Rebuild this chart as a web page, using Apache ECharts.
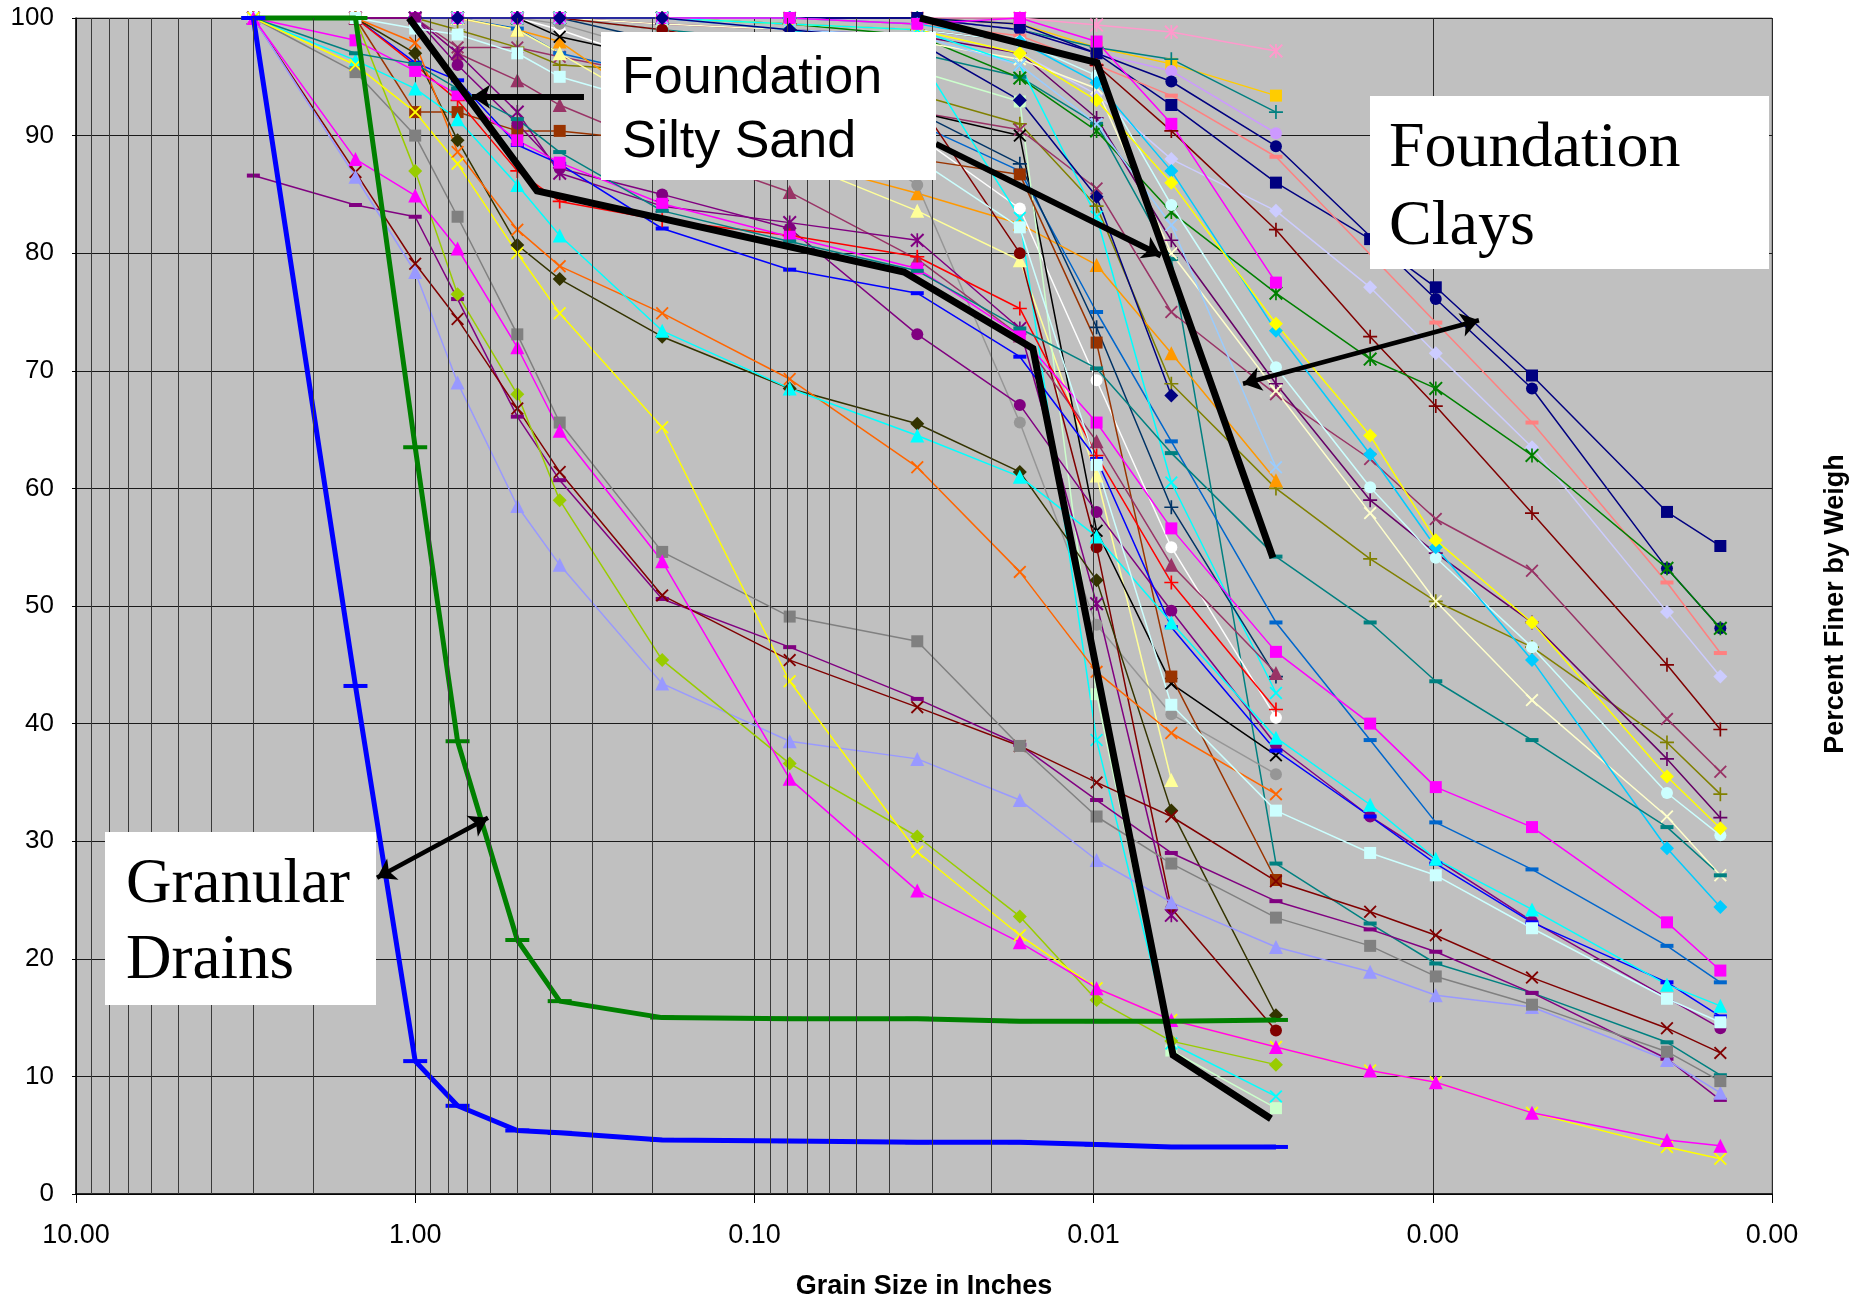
<!DOCTYPE html>
<html>
<head>
<meta charset="utf-8">
<script src="https://cdn.jsdelivr.net/npm/echarts@6.0.0/dist/echarts.min.js"></script>
<style>
  html, body { margin: 0; background: #fff; }
  #chart { width: 1873px; height: 1305px; }
</style>
</head>
<body>
<div id="chart"></div>
<script>
const _ = null

// sieve / hydrometer sizes (inches)
const sizes = [3, 1.5, 1.0, 0.75, 0.5, 0.375, 0.187, 0.0787, 0.0331, 0.0165, 0.0098, 0.0059, 0.0029, 0.00153, 0.00098, 0.00051, 0.000204, 0.000142]

// percent finer, one value per size
const drainBlue = [100, 43.2, 11.3, 7.5, 5.4, 5.2, 4.6, 4.5, 4.4, 4.4, 4.2, 4.0, 4.0]
const drainGreen = [100, 100, 63.5, 38.5, 21.6, 16.4, 15.0, 14.9, 14.9, 14.7, 14.7, 14.7, 14.8]

const magentaTri = [100, 88.0, 84.9, 80.4, 72.0, 64.9, 53.8, 35.3, 25.8, 21.4, 17.5, 14.8, 12.5, 10.5, 9.5, 6.9, 4.6, 4.1]
const yellowX = [100, 96.0, 92.0, 87.6, 80.0, 74.9, 65.2, 43.6, 29.1, 22.0, 17.5, 14.8, 12.5, 10.5, 9.5, 6.9, 4.0, 3.0]
const yellowGreenDia = [100, 100, 87.0, 76.5, 68.0, 59.0, 45.4, 36.6, 30.4, 23.6, 16.5, 13.0, 11.0]
const graySq = [100, 95.4, 90.0, 83.1, 73.1, 65.6, 54.6, 49.1, 47.0, 38.1, 32.1, 28.1, 23.5, 21.1, 18.5, 16.1, 12.1, 9.6]
const lavBlueTri = [100, 86.5, 78.4, 69.0, 58.5, 53.5, 43.4, 38.5, 37.0, 33.5, 28.4, 24.8, 21.0, 18.9, 16.9, 15.9, 11.4, 8.6]
const darkRedX = [100, 86.9, 79.1, 74.4, 66.8, 61.4, 50.9, 45.4, 41.4, 38.1, 35.0, 32.1, 26.6, 24.0, 22.0, 18.4, 14.1, 12.0]
const purpleDash = [86.6, 84.1, 83.1, 76.1, 66.1, 60.7, 50.6, 46.5, 42.1, 38.2, 33.5, 29.0, 24.9, 22.5, 20.6, 17.1, 11.5, 8.0]
const magentaSq = [100, 98.1, 95.5, 93.5, 89.6, 87.7, 84.2, 81.4, 78.7, 73.0, 65.6, 56.6, 46.1, 40.0, 34.6, 31.2, 23.1, 19.0]
const cyanTri = [100, 96.4, 94.0, 91.4, 85.8, 81.5, 73.4, 68.5, 64.5, 61.0, 55.9, 48.6, 38.8, 33.1, 28.5, 24.2, 17.8, 16.0]
const orangeX = [100, 100, 97.9, 88.6, 82.0, 78.9, 74.9, 69.3, 61.8, 52.9, 44.4, 39.2, 34.0]
const darkOliveDia = [100, 100, 97.0, 89.6, 80.7, 77.8, 72.9, 68.5, 65.5, 61.4, 52.2, 32.6, 15.2]
const redPlus = [100, 100, 96.0, 93.0, 87.0, 84.4, 82.8, 81.5, 79.7, 75.3, 62.8, 52.0, 41.2]
const blueDash = [100, 100, 96.2, 94.7, 89.2, 87.6, 82.1, 78.6, 76.6, 71.2, 62.5, 48.2, 37.7, 32.1, 28.1, 23.1, 18.0, 15.1]
const purpleCircle = [100, 100, 100, 96.0, 91.0, 87.2, 85.0, 82.1, 73.1, 67.1, 58.0, 49.6, 38.2, 32.1, _, 23.2, _, 14.1]
const purpleStar = [100, 100, 100, 97.0, 92.0, 86.8, 84.0, 82.6, 81.1, 73.6, 50.2, 23.7]
const mauveTri = [100, 100, 100, 97.0, 94.7, 92.6, 89.0, 85.2, 79.5, 73.0, 64.0, 53.5, 44.3]
const brownSq = [100, 100, 92.0, 92.0, 90.4, 90.4, 89.5, 89.0, 88.0, 86.7, 72.4, 44.0, 26.7]
const lightCyanSq = [100, 100, 99.1, 98.6, 97.0, 95.0, 92.5, 90.5, 88.0, 82.2, 62.0, 41.6, 32.6, 29.0, 27.1, 22.6, 16.6, 14.6]
const tealDash = [100, 97.0, 96.1, 94.0, 91.4, 88.6, 83.6, 81.0, 78.5, 73.6, 70.2, 63.0, 54.2, 48.6, 43.6, 38.6, 31.2, 27.1]
const tealDash2 = [_, _, 100, 100, 100, 100, 99, 98, 97, 95, 91, 79.5, 28.1, 23.0, 19.6, 17.1, 12.9, 10.1]
const skyDia = [_, _, 100, 100, 100, 100, 100, 100, 99.5, 98, 94.5, 87.0, 73.4, 62.9, 55.0, 45.4, 29.4, 24.4]
const yellowDia = [_, _, 100, 100, 100, 100, 100, 99.5, 99, 97, 93.0, 86.0, 74.0, 64.5, 55.6, 48.6, 35.5, 31.1]
const navySq = [_, _, 100, 100, 100, 100, 100, 100, 100, 99.5, 97.0, 92.6, 86.0, 81.2, 77.1, 69.6, 58.0, 55.1]
const navyCircle = [_, _, 100, 100, 100, 100, 100, 100, 100, 99, 97.0, 94.6, 89.1, _, 76.1, 68.5, 53.2, 48.1]
const salmonDash = [_, _, 100, 100, 100, 100, 100, 100, 99.5, 98.5, 96.0, 93.4, 88.2, _, 74.1, 65.6, 52.0, 46.0]
const lavenderDia = [_, _, 100, 100, 100, 100, 100, 99.5, 99, 97.0, 93.5, 88.0, 83.6, 77.1, 71.5, 63.5, 49.5, 44.0]
const maroonPlus = [_, _, 100, 100, 100, 100, 100, 99.5, 99, 98, 96.0, 90.4, 82.0, 72.9, 67.0, 57.9, 45.0, 39.5]
const greenStar = [_, _, 100, 100, 100, 100, 100, 99.5, 98.5, 94.9, 90.4, 83.5, 76.6, 71.0, 68.5, 62.8, 53.2, 48.1]
const olivePlus = [_, _, 100, 99.0, 97.5, 96.0, 95.5, 95.0, 93.5, 91.0, 84.0, 68.9, 60.0, 54.0, 50.4, 46.5, 38.4, 34.0]
const mauveX = [_, _, 100, 97.5, 97.5, 96.7, 95.0, 93.0, 92.0, 90.5, 85.5, 75.0, 68.0, 62.5, 57.4, 53.0, 40.4, 35.9]
const darkPurplePlus = [_, _, 100, 100, 100, 100, 99.5, 99, 98.5, 97.0, 91.5, 81.1, 68.9, 59.0, 54.5, 48.6, 37.0, 32.0]
const lightCyanCircle = [_, _, 100, 100, 100, 100, 100, 99.5, 99, 98, 95.1, 84.1, 70.3, 60.1, 54.1, 46.5, 34.1, 30.5]
const creamX = [_, _, 100, 100, 100, 100, 99.5, 99, 98, 96.5, 94.0, 80.0, 68.3, 57.9, 50.4, 42.0, 32.1, 27.1]
const steelDash = [_, _, 100, 100, 99.1, 97.0, 95, 93, 91, 87, 75.0, 64.0, 48.6, 38.6, 31.6, 27.6, 21.1, 18.0]
const cyanX = [_, _, 100, 100, 100, 100, 100, 99.5, 99, 96.0, 83.1, 60.5, 42.6]
const orangeTri = [_, _, 100, 100, 99, 98, 92.0, 88.0, 85.1, 82.5, 79.0, 71.5, 60.7]
const lightYellowTri = [_, _, 100, 100, 99, 97, 92, 88, 83.6, 79.4, 61.1, 35.2]
const whiteCircle = [_, _, 100, 100, 100, 99, 96, 93, 90.0, 83.8, 69.2, 55.0, 40.5]
const grayCircle = [_, _, 100, 100, 100, 99.5, 97, 93, 85.8, 65.6, 48.4, 40.8, 35.7]
const blackX = [_, _, 100, 100, 100, 98.4, 96.5, 94.5, 92.0, 90.0, 56.4, 43.4, 37.3]
const darkBluePlus = [_, _, 100, 100, 100, 100, 98, 95, 92, 87.6, 73.7, 58.4, 44.0]
const pinkStar = [_, _, 100, 100, 100, 100, 100, 100, 100, 100, 99.4, 98.8, 97.2]
const goldSq = [_, _, 100, 100, 100, 100, 100, 100, 100, 99.5, 97.5, 96.1, 93.4]
const tealPlus = [_, _, 100, 100, 100, 100, 100, 100, 100, 99, 97.5, 96.5, 92.0]
const lilacCircle = [_, _, 100, 100, 100, 100, 100, 100, 100, 99, 97.0, 95.5, 90.2]
const lightGreenSq = [_, _, 100, 100, 100, 100, 99, 97, 95.5, 92.9, 42.5, 12.2, 7.3]
const cyanLow = [_, _, 100, 100, 100, 100, 100, 99, 97, 83.0, 38.6, 12.8, 8.3]
const darkRedCircle = [_, _, 100, 100, 100, 100, 99, 97, 93, 80, 55, 24.3, 13.9]
const magentaSq2 = [_, _, 100, 100, 100, 100, 100, 100, 99.5, 100, 98.0, 91.0, 77.5]
const lightBlueX = [_, _, 100, 100, 100, 100, 100, 99, 98.5, 96, 91, 82.4, 61.8]
const navyDia = [_, _, 100, 100, 100, 100, 100, 99, 98, 93, 84.8, 67.9]

// hand drawn boundaries (size, percent)
const boundA_size = [1.043, 0.4375, 0.0362, 0.0151, 0.00583, 0.0030]
const boundA_pct = [100, 85.3, 78.4, 71.9, 11.8, 6.4]
const boundB_size = [0.0325, 0.00977, 0.00296]
const boundB_pct = [100, 96.2, 54.1]

// annotation arrows: [fromSize, fromPct, toSize, toPct]
const arrowSilty1 = [0.318, 93.3, 0.680, 93.3]
const arrowSilty2 = [0.02915, 89.3, 0.00633, 79.8]
const arrowClays = [0.003627, 68.9, 0.000731, 74.3]
const arrowDrains = [1.296, 26.9, 0.610, 32.0]

const X_PATH = 'path://M1,0L5,4L9,0L10,1L6,5L10,9L9,10L5,6L1,10L0,9L4,5L0,1Z'
const PLUS_PATH = 'path://M4.4,0H5.6V4.4H10V5.6H5.6V10H4.4V5.6H0V4.4H4.4Z'
const STAR_PATH = 'path://M1,0L5,4L9,0L10,1L6,5L10,9L9,10L5,6L1,10L0,9L4,5L0,1ZM4.4,0H5.6V10H4.4Z'
const DASH_PATH = 'path://M0,0H10V3H0Z'

const marks = {
    diamond: ['diamond', 14],
    square: ['rect', 12],
    triangle: ['triangle', 14],
    circle: ['circle', 12],
    x: [X_PATH, 13],
    star: [STAR_PATH, 14],
    plus: [PLUS_PATH, 14],
    dash: [DASH_PATH, [13, 4]]
}

const samples = [
    [tealDash2, '#008080', 'dash'],
    [pinkStar, '#FF99CC', 'star'],
    [goldSq, '#FFCC00', 'square'],
    [tealPlus, '#008080', 'plus'],
    [lilacCircle, '#CC99FF', 'circle'],
    [navySq, '#000080', 'square'],
    [navyCircle, '#000080', 'circle'],
    [salmonDash, '#FF8080', 'dash'],
    [lavenderDia, '#CCCCFF', 'diamond'],
    [maroonPlus, '#800000', 'plus'],
    [greenStar, '#008000', 'star'],
    [olivePlus, '#808000', 'plus'],
    [mauveX, '#993366', 'x'],
    [darkPurplePlus, '#660066', 'plus'],
    [lightCyanCircle, '#CCFFFF', 'circle'],
    [creamX, '#FFFFCC', 'x'],
    [steelDash, '#0066CC', 'dash'],
    [skyDia, '#00CCFF', 'diamond'],
    [yellowDia, '#FFFF00', 'diamond'],
    [cyanX, '#00FFFF', 'x'],
    [orangeTri, '#FF9900', 'triangle'],
    [lightYellowTri, '#FFFF99', 'triangle'],
    [whiteCircle, '#FFFFFF', 'circle'],
    [grayCircle, '#969696', 'circle'],
    [blackX, '#000000', 'x'],
    [darkBluePlus, '#003366', 'plus'],
    [lightGreenSq, '#CCFFCC', 'square'],
    [cyanLow, '#00FFFF', 'x'],
    [darkRedCircle, '#800000', 'circle'],
    [magentaSq2, '#FF00FF', 'square'],
    [lightBlueX, '#99CCFF', 'x'],
    [navyDia, '#000080', 'diamond'],
    [brownSq, '#993300', 'square'],
    [mauveTri, '#993366', 'triangle'],
    [purpleStar, '#800080', 'star'],
    [purpleCircle, '#800080', 'circle'],
    [blueDash, '#0000FF', 'dash'],
    [redPlus, '#FF0000', 'plus'],
    [darkOliveDia, '#333300', 'diamond'],
    [orangeX, '#FF6600', 'x'],
    [cyanTri, '#00FFFF', 'triangle'],
    [magentaSq, '#FF00FF', 'square'],
    [purpleDash, '#800080', 'dash'],
    [darkRedX, '#800000', 'x'],
    [lavBlueTri, '#9999FF', 'triangle'],
    [graySq, '#808080', 'square'],
    [yellowGreenDia, '#99CC00', 'diamond'],
    [lightCyanSq, '#CCFFFF', 'square'],
    [tealDash, '#008080', 'dash'],
    [yellowX, '#FFFF00', 'x'],
    [magentaTri, '#FF00FF', 'triangle']
]

function pairs(vals) {
    return sizes.map((s, i) => [s, vals[i]]).filter(p => p[1] !== null && p[1] !== undefined)
}

let chart = echarts.init(document.querySelector('#chart'), null, { renderer: 'canvas' })

// minor log gridlines at 2..9 of each decade
let minorLines = []
;[0.0001, 0.001, 0.01, 0.1, 1].forEach((d) => {
    for (let k = 2; k <= 9; k++) minorLines.push({ xAxis: d * k })
})

let series = []

series.push({
    type: 'line',
    data: [],
    z: 1,
    silent: true,
    markLine: {
        silent: true,
        symbol: 'none',
        animation: false,
        label: { show: false },
        lineStyle: { color: '#3a3a3a', width: 1, type: 'solid' },
        data: minorLines
    }
})

samples.forEach(([vals, color, mk]) => {
    series.push({
        type: 'line',
        data: pairs(vals),
        symbol: marks[mk][0],
        symbolSize: marks[mk][1],
        showAllSymbol: true,
        clip: false,
        itemStyle: { color: color },
        lineStyle: { color: color, width: 1.5 },
        z: 3
    })
})

// granular drains
series.push({
    type: 'line', data: pairs(drainGreen), symbol: DASH_PATH, symbolSize: [24, 4], clip: false,
    itemStyle: { color: '#008000' }, lineStyle: { color: '#008000', width: 5 }, z: 4
})
series.push({
    type: 'line', data: pairs(drainBlue), symbol: DASH_PATH, symbolSize: [24, 4], clip: false,
    itemStyle: { color: '#0000FF' }, lineStyle: { color: '#0000FF', width: 5 }, z: 4
})

// envelopes
series.push({
    type: 'line', data: boundA_size.map((s, i) => [s, boundA_pct[i]]), symbol: 'none', clip: false,
    lineStyle: { color: '#000', width: 7, join: 'miter' }, z: 5
})
series.push({
    type: 'line', data: boundB_size.map((s, i) => [s, boundB_pct[i]]), symbol: 'none', clip: false,
    lineStyle: { color: '#000', width: 7, join: 'miter' }, z: 5
})

function arrow(a, width, both) {
    return [
        { coord: [a[0], a[1]], symbol: both ? 'arrow' : 'none', lineStyle: { width: width, color: '#000', type: 'solid' } },
        { coord: [a[2], a[3]], symbol: 'arrow' }
    ]
}

series.push({
    type: 'line',
    data: [],
    z: 6,
    silent: true,
    markLine: {
        silent: true,
        animation: false,
        symbol: ['arrow', 'arrow'],
        symbolSize: 18,
        label: { show: false },
        lineStyle: { color: '#000', type: 'solid' },
        data: [
            arrow(arrowSilty1, 6, false),
            arrow(arrowSilty2, 6, false),
            arrow(arrowClays, 4.5, true),
            arrow(arrowDrains, 4.5, true)
        ]
    }
})

let option = {
    animation: false,
    backgroundColor: '#ffffff',
    grid: {
        left: 76,
        right: 101,
        top: 18,
        bottom: 111,
        show: true,
        backgroundColor: '#C0C0C0',
        borderColor: '#808080',
        borderWidth: 1
    },
    xAxis: {
        type: 'log',
        logBase: 10,
        min: 0.0001,
        max: 10,
        inverse: true,
        splitNumber: 5,
        axisLine: { show: true, onZero: false, lineStyle: { color: '#000', width: 1.5 } },
        axisTick: { show: true, length: 9, lineStyle: { color: '#000' } },
        axisLabel: {
            show: true,
            margin: 28,
            color: '#000',
            fontFamily: '"Liberation Sans", Arial, sans-serif',
            fontSize: 27,
            showMinLabel: true,
            showMaxLabel: true,
            formatter: function (v) { return Number(v).toFixed(2) }
        },
        splitLine: { show: true, lineStyle: { color: '#2a2a2a', width: 1 } },
        minorTick: { show: false },
        minorSplitLine: { show: false }
    },
    yAxis: {
        type: 'value',
        min: 0,
        max: 100,
        interval: 10,
        axisLine: { show: true, lineStyle: { color: '#000', width: 1.5 } },
        axisTick: { show: true, length: 4, lineStyle: { color: '#000' } },
        axisLabel: {
            margin: 22,
            color: '#000',
            fontFamily: '"Liberation Sans", Arial, sans-serif',
            fontSize: 26
        },
        splitLine: { show: true, lineStyle: { color: '#1a1a1a', width: 1 } }
    },
    graphic: [
        // Foundation Silty Sand
        { type: 'rect', z: 100, shape: { x: 601, y: 32, width: 335, height: 148 }, style: { fill: '#fff' } },
        {
            type: 'text', z: 101, x: 622, y: 47,
            style: { text: 'Foundation\nSilty Sand', font: '52px "Liberation Sans", Arial, sans-serif', lineHeight: 64, fill: '#000', verticalAlign: 'top' }
        },
        // Foundation Clays
        { type: 'rect', z: 100, shape: { x: 1370, y: 96, width: 399, height: 173 }, style: { fill: '#fff' } },
        {
            type: 'text', z: 101, x: 1389, y: 110,
            style: { text: 'Foundation\nClays', font: '64px "Liberation Serif", "Times New Roman", serif', lineHeight: 78, fill: '#000', verticalAlign: 'top' }
        },
        // Granular Drains
        { type: 'rect', z: 100, shape: { x: 105, y: 832, width: 271, height: 173 }, style: { fill: '#fff' } },
        {
            type: 'text', z: 101, x: 126, y: 847,
            style: { text: 'Granular\nDrains', font: '63px "Liberation Serif", "Times New Roman", serif', lineHeight: 76, fill: '#000', verticalAlign: 'top' }
        },
        // axis titles
        {
            type: 'text', z: 101, x: 924, y: 1287,
            style: { text: 'Grain Size in Inches', font: 'bold 27px "Liberation Sans", Arial, sans-serif', fill: '#000', align: 'center', verticalAlign: 'middle' }
        },
        {
            type: 'text', z: 101, x: 1836, y: 604, rotation: Math.PI / 2,
            style: { text: 'Percent Finer by Weigh', font: 'bold 27px "Liberation Sans", Arial, sans-serif', fill: '#000', align: 'center', verticalAlign: 'middle' }
        }
    ],
    series: series
}

chart.setOption(option)
</script>
</body>
</html>
